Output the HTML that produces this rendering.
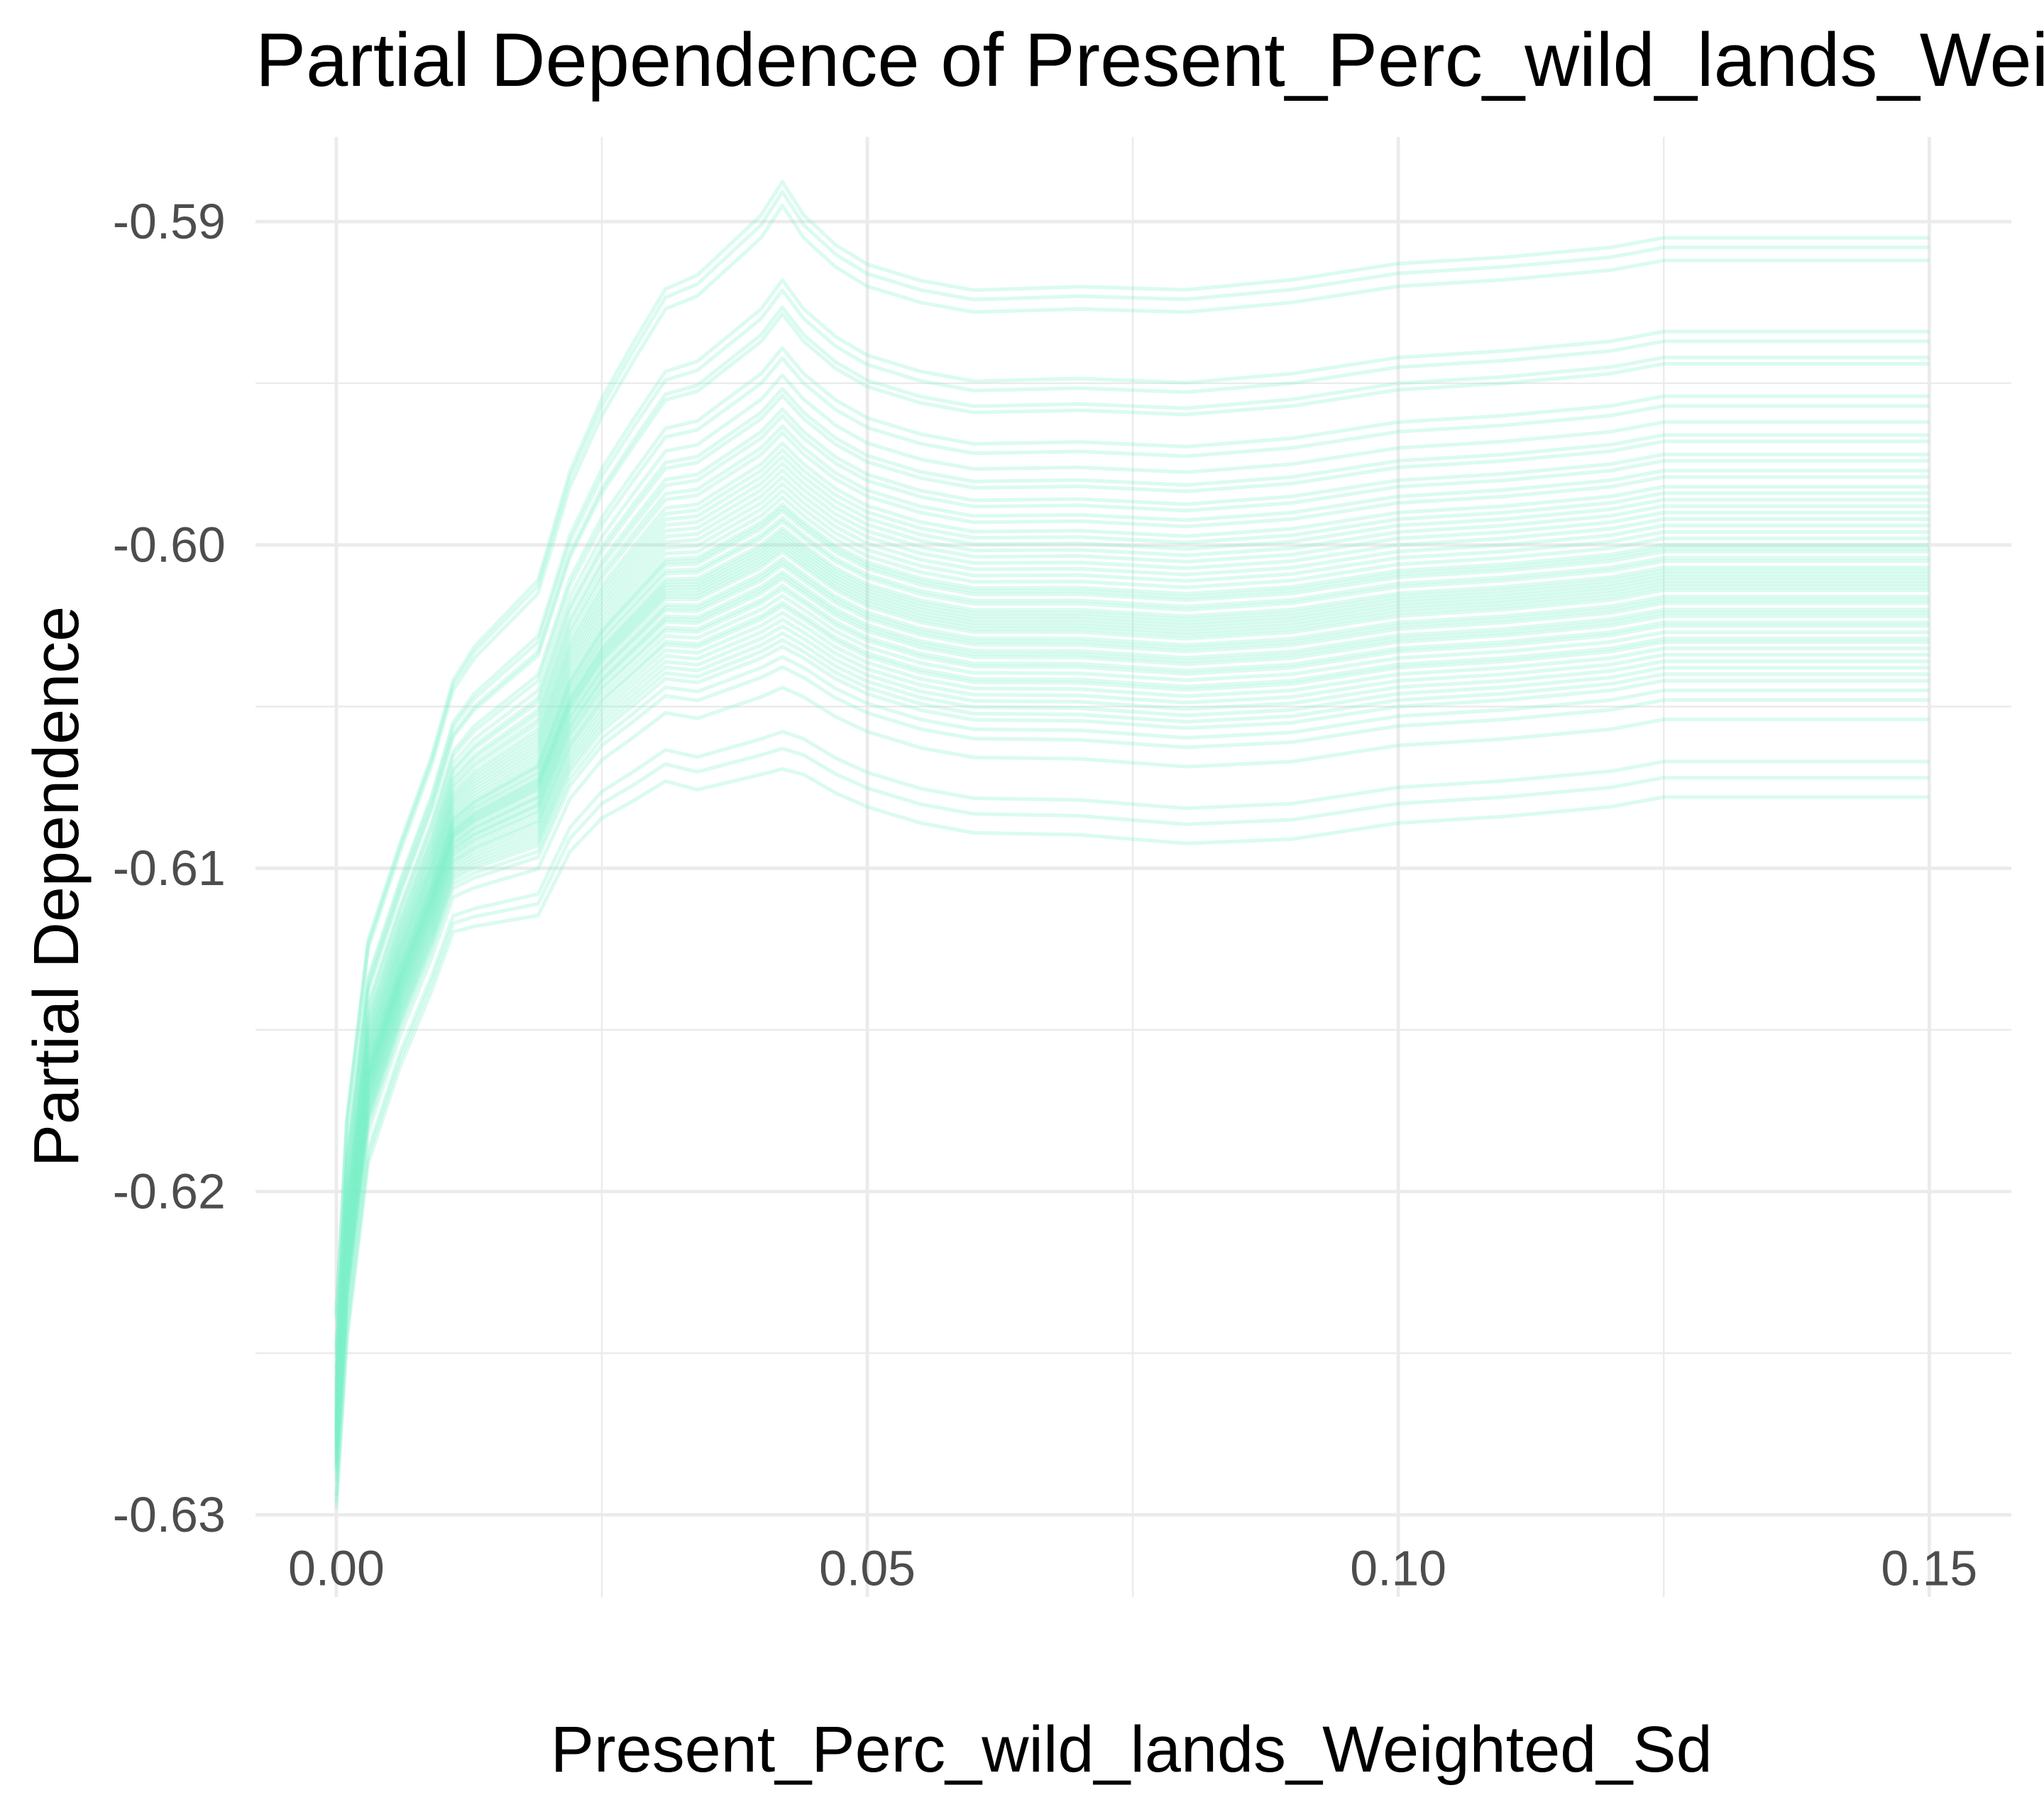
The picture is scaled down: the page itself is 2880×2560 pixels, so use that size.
<!DOCTYPE html>
<html><head><meta charset="utf-8"><style>
html,body{margin:0;padding:0;background:#fff;}
svg{display:block;font-family:"Liberation Sans",Arial,sans-serif;}
</style></head><body>
<svg id="chart" width="2880" height="2560" viewBox="0 0 1568 1393.8" xmlns="http://www.w3.org/2000/svg">
<rect width="1568" height="1394" fill="#fff"/>
<g id="grid"></g>
<g id="lines"></g>
<g id="axes"></g>
<text x="196" y="66" font-size="58" fill="#000">Partial Dependence of Present_Perc_wild_lands_Weighted_Sd</text>
<text x="868" y="1359" font-size="50" text-anchor="middle" fill="#000">Present_Perc_wild_lands_Weighted_Sd</text>
<text transform="translate(60,680) rotate(-90)" font-size="49" text-anchor="middle" fill="#000">Partial Dependence</text>
</svg>
<script>
const xTicks = [0, 0.05, 0.10, 0.15];
const xTickLabels = ["0.00", "0.05", "0.10", "0.15"];
const yTicks = [-0.59, -0.60, -0.61, -0.62, -0.63];
const yTickLabels = ["-0.59", "-0.60", "-0.61", "-0.62", "-0.63"];
const gridX = [0.001, 0.003, 0.006, 0.009, 0.011, 0.013, 0.016, 0.019, 0.022, 0.025, 0.028, 0.031, 0.034, 0.037, 0.040, 0.042, 0.044, 0.047, 0.050, 0.055, 0.060, 0.070, 0.080, 0.090, 0.100, 0.110, 0.120, 0.125, 0.150];
const meanCurve = [-0.6275, -0.622, -0.6165, -0.6135, -0.611, -0.609, -0.6085, -0.608, -0.6075, -0.605, -0.6035, -0.6025, -0.6015, -0.6015, -0.601, -0.6005, -0.6, -0.6005, -0.6012, -0.6017, -0.6022, -0.6025, -0.6025, -0.6027, -0.6025, -0.602, -0.6018, -0.6015, -0.6012, -0.6012];
const xAll = [0].concat(gridX);
const spreadProfile = [0.35, 0.4, 0.4, 0.4, 0.42, 0.45, 0.5, 0.55, 0.6, 0.68, 0.75, 0.82, 0.88, 0.92, 0.96, 1.0, 1.05, 1.0, 0.98, 0.97, 0.97, 0.97, 0.98, 0.99, 1.0, 1.0, 1.0, 1.0, 1.0, 1.0];
const curveOffsets = [0.0107, 0.0104, 0.0100, 0.0078, 0.0075, 0.0070, 0.0068, 0.0058, 0.0055, 0.0050, 0.0046, 0.0044, 0.0040, 0.0038, 0.0035, 0.0033, 0.0030, 0.0028, 0.0026, 0.0024, 0.0022, 0.0020, 0.0018, 0.0016, 0.0014, 0.0012, 0.0011, 0.0010, 0.0008, 0.0007, 0.0005, 0.0004, 0.0003, 0.0002, 0.0001, 0.0000, -0.0001, -0.0002, -0.0004, -0.0005, -0.0006, -0.0008, -0.0009, -0.0010, -0.0012, -0.0013, -0.0015, -0.0017, -0.0018, -0.0020, -0.0022, -0.0024, -0.0026, -0.0028, -0.0030, -0.0033, -0.0036, -0.0042, -0.0055, -0.0060, -0.0066];

const NS = "http://www.w3.org/2000/svg";
const px = v => 258 + (v - 0) * (1480 - 258) / 0.15;
const py = v => 170 + (-0.59 - v) * (1162 - 170) / 0.04;
const grid = document.getElementById('grid');
const axes = document.getElementById('axes');
const lines = document.getElementById('lines');
function mk(tag, attrs, parent){const e=document.createElementNS(NS,tag);for(const k in attrs)e.setAttribute(k,attrs[k]);parent.appendChild(e);return e;}
for (let i=0;i<xTicks.length-1;i++){
  const x=px((xTicks[i]+xTicks[i+1])/2);
  const l=mk('line',{x1:x,x2:x,y1:105,y2:1225,stroke:'#ebebeb','stroke-width':1.3},grid);
  
  
}
for (let i=0;i<yTicks.length-1;i++){
  const y=py((yTicks[i]+yTicks[i+1])/2);
  const l=mk('line',{x1:196,x2:1543,y1:y,y2:y,stroke:'#ebebeb','stroke-width':1.3},grid);
  
  
}
xTicks.forEach((t,i)=>{
  const x=px(t);
  const l=mk('line',{x1:x,x2:x,y1:105,y2:1225,stroke:'#ebebeb','stroke-width':2.6},grid);
  
  
  const tx=mk('text',{x:x,y:1216,'font-size':38,'text-anchor':'middle',fill:'#4d4d4d'},axes);
  tx.textContent=xTickLabels[i];
  
  
});
yTicks.forEach((t,i)=>{
  const y=py(t);
  const l=mk('line',{x1:196,x2:1543,y1:y,y2:y,stroke:'#ebebeb','stroke-width':2.6},grid);
  
  
  const tx=mk('text',{x:173,y:y+13,'font-size':38,'text-anchor':'end',fill:'#4d4d4d'},axes);
  tx.textContent=yTickLabels[i];
  
  
});
curveOffsets.forEach((o)=>{
  const pts=xAll.map((x,j)=>px(x).toFixed(1)+','+py(meanCurve[j]+o*spreadProfile[j]).toFixed(1)).join(' ');
  const p=mk('polyline',{points:pts,fill:'none',stroke:'#7ff0c8','stroke-opacity':0.28,'stroke-width':2.8,'stroke-linejoin':'round'},lines);
  
  
});
</script>
</body></html>
